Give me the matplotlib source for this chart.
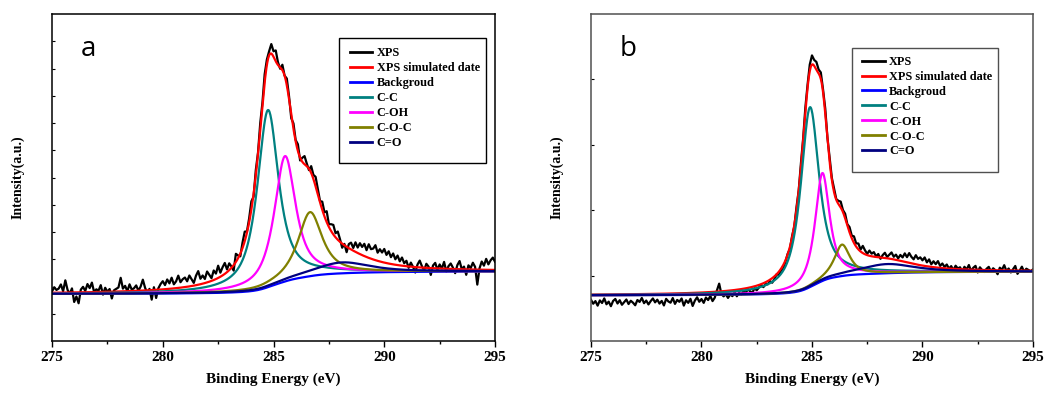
import numpy as np
import matplotlib
matplotlib.use('Agg')
import matplotlib.pyplot as plt
from matplotlib.patches import Rectangle

plt.rcParams['font.family'] = 'Liberation Serif'
plt.rcParams['font.weight'] = 'bold'

# components: C-C, C-OH, C-O-C, C=O  (fitted peak parameters)
names = ['C-C', 'C-OH', 'C-O-C', 'C=O']
a_center = [284.75, 285.52, 286.65, 288.1]
a_height = [6.5, 4.6, 2.35, 0.40]
a_fwhm = [1.15, 1.15, 1.3, 3.0]
a_bg = [1.73, 2.55]           # background level at 275 / 295 eV

b_center = [284.91, 285.47, 286.36, 288.4]
b_height = [2.75, 1.65, 0.48, 0.14]
b_fwhm = [1.0, 0.78, 0.85, 3.0]
b_bg = [0.70, 1.06]

# measured XPS minus fitted envelope, every 0.1 eV from 275 to 295
a_resid = [0.05, 0.20, 0.10, 0.15, 0.30, 0.05, 0.45, 0.10, -0.05, 0.15,
           -0.35, -0.15, -0.40, 0.10, 0.20, 0.05, 0.30, 0.15, 0.35, 0.00,
           0.10, 0.05, 0.25, -0.10, 0.15, 0.00, 0.10, -0.25, 0.05, 0.10,
           0.15, 0.50, 0.10, 0.20, 0.00, 0.25, 0.05, 0.10, 0.20, 0.00,
           0.15, 0.40, 0.10, -0.10, 0.05, -0.35, 0.10, -0.30, 0.05, 0.20,
           0.30, 0.15, 0.35, 0.20, 0.40, 0.15, 0.25, 0.45, 0.20, 0.30,
           0.35, 0.20, 0.40, 0.25, 0.10, 0.35, 0.50, 0.20, 0.30, 0.15,
           0.40, 0.25, 0.10, 0.35, 0.20, 0.45, 0.15, 0.30, 0.40, 0.10,
           0.25, 0.05, -0.20, 0.30, 0.10, -0.10, 0.20, 0.35, 0.05, 0.15,
           0.30, -0.10, 0.20, 0.05, 0.25, 0.10, 0.30, 0.20, 0.15, 0.35,
           0.20, 0.40, 0.10, -0.05, 0.20, 0.00, 0.25, 0.10, -0.15, 0.20,
           0.05, 0.25, -0.10, 0.15, 0.30, 0.10, -0.05, 0.25, 0.15, 0.35,
           0.20, 0.05, 0.30, 0.15, 0.40, 0.10, 0.25, 0.35, 0.15, 0.30,
           0.10, -0.15, 0.05, -0.20, 0.15, 0.25, 0.10, 0.35, 0.20, 0.40,
           0.30, 0.45, 0.25, 0.50, 0.35, 0.40, 0.55, 0.30, 0.45, 0.35,
           0.50, 0.30, 0.45, 0.25, 0.40, 0.20, 0.35, 0.15, 0.30, 0.10,
           0.20, -0.05, 0.15, 0.00, -0.20, 0.10, 0.25, 0.05, -0.10, 0.15,
           0.05, -0.25, 0.10, 0.20, -0.05, 0.15, 0.00, 0.25, -0.10, 0.10,
           0.20, 0.05, -0.15, 0.15, 0.30, 0.00, 0.10, -0.20, 0.15, 0.05,
           0.25, 0.10, -0.55, 0.05, 0.30, 0.15, 0.40, 0.20, 0.35, 0.45,
           0.30]
b_resid = [-0.08, -0.14, -0.10, -0.17, -0.09, -0.13, -0.06, -0.15, -0.11, -0.18,
           -0.10, -0.07, -0.14, -0.09, -0.16, -0.12, -0.08, -0.15, -0.10, -0.13,
           -0.17, -0.09, -0.12, -0.06, -0.14, -0.10, -0.16, -0.11, -0.07, -0.13,
           -0.09, -0.15, -0.11, -0.18, -0.08, -0.12, -0.14, -0.07, -0.16, -0.10,
           -0.13, -0.08, -0.19, -0.11, -0.15, -0.09, -0.20, -0.12, -0.07, -0.14,
           -0.10, -0.16, -0.08, -0.12, -0.06, -0.14, -0.09, 0.02, 0.12, -0.04,
           -0.08, -0.05, -0.11, -0.06, -0.09, -0.03, -0.10, -0.05, -0.08, -0.04,
           -0.07, -0.02, -0.06, -0.09, -0.03, -0.07, -0.04, -0.01, -0.06, -0.03,
           -0.05, -0.02, -0.07, -0.04, 0.00, -0.05, -0.03, -0.06, -0.02, 0.01,
           -0.03, 0.02, -0.02, 0.04, 0.00, 0.06, 0.03, 0.08, 0.05, 0.10,
           0.14, 0.09, 0.12, 0.06, 0.10, 0.04, 0.08, 0.02, 0.07, 0.03,
           0.06, 0.01, 0.05, 0.09, 0.03, 0.07, 0.02, 0.08, 0.04, 0.10,
           0.05, 0.09, 0.03, 0.11, 0.06, 0.02, 0.08, 0.04, 0.07, 0.01,
           0.05, -0.02, 0.04, 0.08, 0.02, 0.06, 0.10, 0.04, 0.08, 0.03,
           0.09, 0.06, 0.13, 0.08, 0.15, 0.10, 0.07, 0.14, 0.09, 0.12,
           0.08, 0.13, 0.06, 0.11, 0.04, 0.09, 0.05, 0.10, 0.03, 0.07,
           0.02, 0.06, 0.00, 0.04, -0.02, 0.05, 0.01, 0.03, -0.03, 0.04,
           0.00, 0.07, -0.02, 0.03, 0.06, -0.04, 0.04, 0.00, -0.03, 0.02,
           0.05, -0.02, 0.03, 0.00, -0.06, 0.04, 0.01, 0.08, -0.01, 0.03,
           -0.03, 0.02, 0.07, -0.05, 0.00, 0.06, -0.02, 0.03, 0.01, -0.01,
           0.02]

comp_colors = ['#008080', '#ff00ff', '#808000', '#000080']
ETA = 0.85   # lorentzian share of the pseudo-voigt


def peak(x, c, h, w):
    g = np.exp(-4 * np.log(2) * (x - c) ** 2 / w ** 2)
    l = 1.0 / (1 + 4 * (x - c) ** 2 / w ** 2)
    return h * (ETA * l + (1 - ETA) * g)


def draw(ax, centers, heights, fwhms, bg, resid, ymax, label, spine_col, leg_box, leg_anchor):
    e = np.linspace(275, 295, 1001)
    comps = [peak(e, c, h, w) for c, h, w in zip(centers, heights, fwhms)]
    tot = np.sum(comps, axis=0)
    cum = np.cumsum(tot)
    back = bg[0] + (bg[1] - bg[0]) * cum / cum[-1]
    env = back + tot

    idx = np.arange(0, 1001, 5)
    xps = env[idx] + np.array(resid)

    ax.plot(e[idx], xps, color='black', lw=1.6, label='XPS')
    ax.plot(e, env, color='red', lw=1.6, label='XPS simulated date')
    ax.plot(e, back, color='blue', lw=1.6, label='Backgroud')
    for comp, col, nm in zip(comps, comp_colors, names):
        ax.plot(e, back + comp, color=col, lw=1.6, label=nm)

    ax.set_xlim(275, 295)
    ax.set_ylim(0, ymax)
    ax.set_xticks([275, 280, 285, 290, 295])
    ax.set_xticks(np.arange(277.5, 295, 5), minor=True)
    ax.set_yticks(np.arange(1, ymax))
    ax.set_yticklabels([])
    ax.tick_params(axis='x', which='major', direction='out', length=4.5, width=1, labelsize=11, pad=3)
    ax.tick_params(axis='x', which='minor', direction='out', length=2.5, width=1)
    ax.tick_params(axis='y', direction='in', length=2, width=0.8)
    for s in ax.spines.values():
        s.set_color(spine_col)
        s.set_linewidth(1.1)

    ax.set_xlabel('Binding Energy (eV)', fontsize=11, fontweight='bold', labelpad=6)
    ax.set_ylabel('Intensity(a.u.)', fontsize=10, fontweight='bold', labelpad=16)
    ax.text(0.065, 0.893, label, transform=ax.transAxes, fontsize=20,
            family='Open Sans', fontweight='normal', va='center')

    x0, y0, x1, y1 = leg_box
    ax.add_patch(Rectangle((x0, y0), x1 - x0, y1 - y0, transform=ax.transAxes,
                           facecolor='white', edgecolor=spine_col, lw=1.0, zorder=5))
    leg = ax.legend(loc='upper left', bbox_to_anchor=leg_anchor, frameon=False,
                    fontsize=8.8, borderpad=0, borderaxespad=0, handlelength=1.85,
                    handletextpad=0.35, labelspacing=0.24)
    leg.set_zorder(6)
    for t in leg.get_texts():
        t.set_fontweight('bold')
    for h in leg.get_lines():
        h.set_linewidth(2)


fig = plt.figure(figsize=(10.49, 3.98), dpi=100)
ax1 = fig.add_axes([0.0496, 0.1432, 0.4223, 0.8216])
ax2 = fig.add_axes([0.5634, 0.1432, 0.4213, 0.8216])

draw(ax1, a_center, a_height, a_fwhm, a_bg, a_resid, 12, 'a', 'black',
     (0.648, 0.544, 0.98, 0.927), (0.672, 0.898))
draw(ax2, b_center, b_height, b_fwhm, b_bg, b_resid, 5, 'b', '#505050',
     (0.590, 0.517, 0.921, 0.896), (0.614, 0.872))

fig.savefig('out.png', dpi=100)
